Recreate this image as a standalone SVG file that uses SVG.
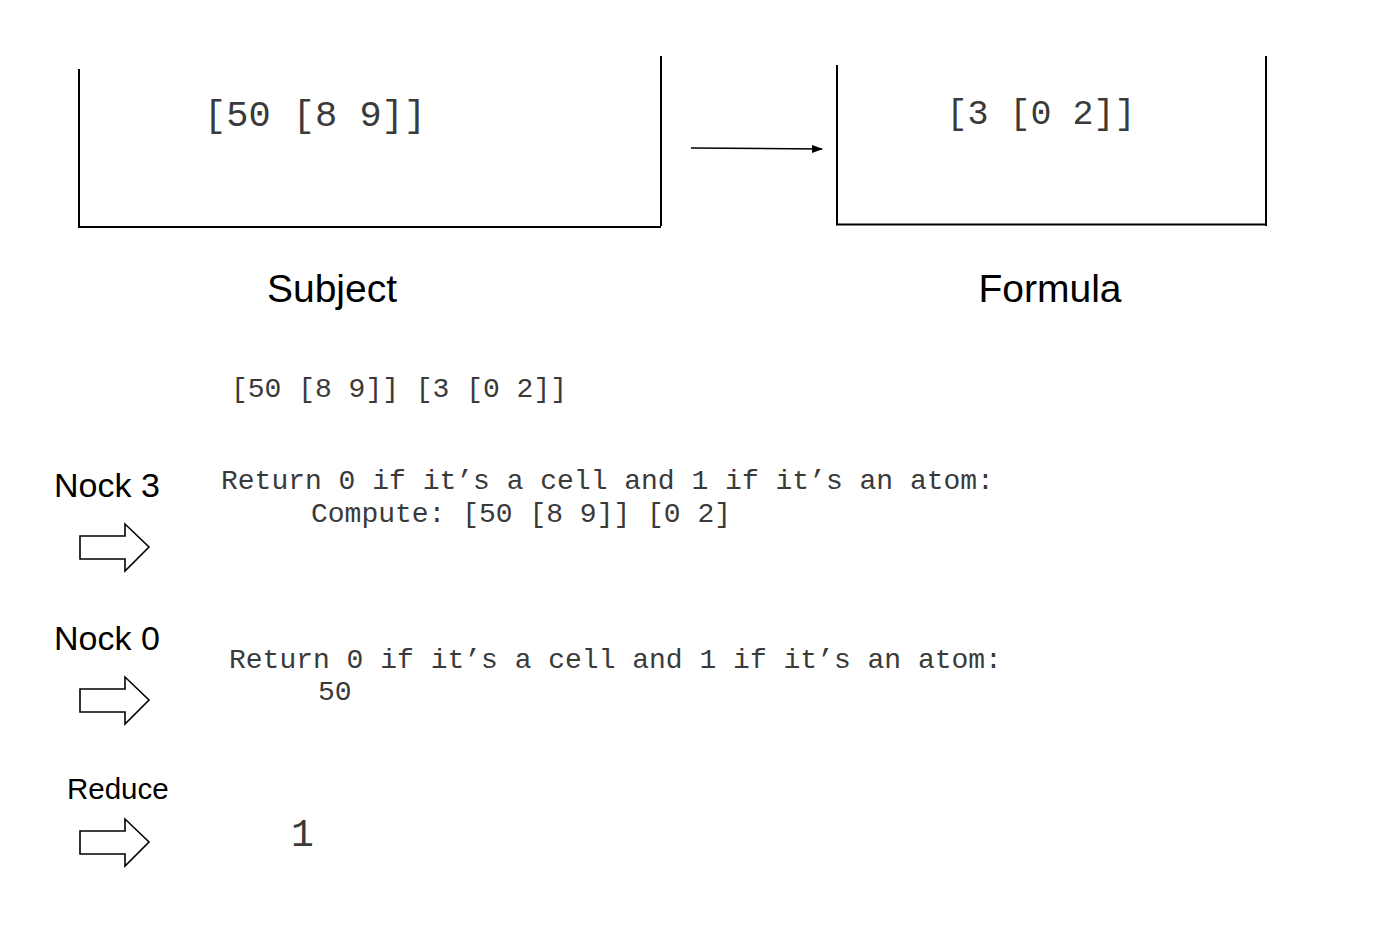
<svg xmlns="http://www.w3.org/2000/svg" width="1392" height="938" viewBox="0 0 1392 938">
<style>
.ln{fill:none;stroke:#000;stroke-width:2;stroke-linecap:square}
.mono{font-family:"Liberation Mono","Courier New",monospace;fill:#3a3a3a}
.sans{font-family:"Liberation Sans",Arial,sans-serif;fill:#000}
.blk{fill:#fff;stroke:#000;stroke-width:1.6;stroke-linejoin:miter}
</style>
<defs>
<marker id="ah" markerWidth="11" markerHeight="8" refX="10" refY="4" orient="auto" markerUnits="userSpaceOnUse">
<path d="M0,0 L11,4 L0,8 Z" fill="#000"/>
</marker>
<path id="blockArrow" d="M0,0 H45 V-12 L69,11 L45,35 V23 H0 Z"/>
</defs>
<rect width="1392" height="938" fill="#fff"/>

<g id="subject">
<path class="ln" d="M79,70 V227 H660 M661,57 V225"/>
<text class="mono" x="315" y="126" font-size="37" text-anchor="middle">[50 [8 9]]</text>
<text class="sans" x="332" y="302" font-size="39" text-anchor="middle">Subject</text>
</g>

<g id="formula">
<path class="ln" d="M837,66 V224.5 H1266 M1266,57 V225"/>
<text class="mono" x="1041" y="124" font-size="35" text-anchor="middle">[3 [0 2]]</text>
<text class="sans" x="1050" y="302" font-size="39" text-anchor="middle">Formula</text>
</g>

<g id="connectors">
<line x1="691" y1="148" x2="822" y2="149" stroke="#000" stroke-width="1.6" marker-end="url(#ah)"/>
</g>

<g id="expression">
<text class="mono" x="399" y="397" font-size="28" text-anchor="middle">[50 [8 9]] [3 [0 2]]</text>
</g>

<g id="nock3">
<text class="sans" x="54" y="497" font-size="34">Nock 3</text>
<use href="#blockArrow" class="blk" transform="translate(80,536)"/>
<text class="mono" x="221" y="489" font-size="28">Return 0 if it’s a cell and 1 if it’s an atom:</text>
<text class="mono" x="311" y="522" font-size="28">Compute: [50 [8 9]] [0 2]</text>
</g>

<g id="nock0">
<text class="sans" x="54" y="650" font-size="34">Nock 0</text>
<use href="#blockArrow" class="blk" transform="translate(80,689)"/>
<text class="mono" x="229" y="668" font-size="28">Return 0 if it’s a cell and 1 if it’s an atom:</text>
<text class="mono" x="318" y="700" font-size="28">50</text>
</g>

<g id="reduce">
<text class="sans" x="67" y="799" font-size="29.5">Reduce</text>
<use href="#blockArrow" class="blk" transform="translate(80,831)"/>
<text class="mono" x="291" y="846" font-size="38">1</text>
</g>
</svg>
